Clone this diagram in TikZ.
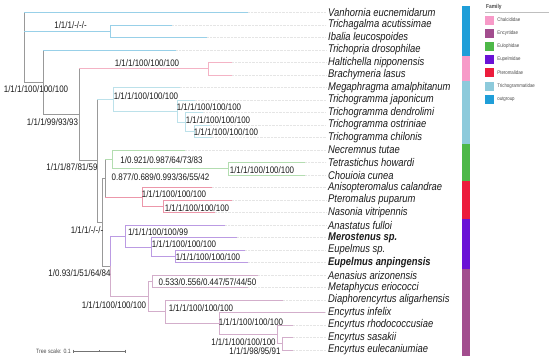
\documentclass[tikz,border=0pt]{standalone}
\usepackage{fontspec}
\setmainfont{Liberation Sans}[FakeStretch=0.84]
\usepackage{tikz}
\usetikzlibrary{positioning,calc}
% branch colours
\definecolor{cgr}{HTML}{999999}
\definecolor{cout}{HTML}{98D0E8}
\definecolor{cchal}{HTML}{F4B3C5}
\definecolor{ctri}{HTML}{BCE1EA}
\definecolor{ceul}{HTML}{B3DDB0}
\definecolor{cpte}{HTML}{EC97AA}
\definecolor{ceup}{HTML}{BB9BE3}
\definecolor{cenc}{HTML}{D3AECB}
% family strip colours
\definecolor{fout}{HTML}{1F9ED8}
\definecolor{fchal}{HTML}{F79AC8}
\definecolor{ftri}{HTML}{8DCADB}
\definecolor{feul}{HTML}{4DB848}
\definecolor{fpte}{HTML}{EC1C3C}
\definecolor{feup}{HTML}{6A12D6}
\definecolor{fenc}{HTML}{A24D8E}
\definecolor{ctext}{HTML}{1A1A1A}

\begin{document}
\begin{tikzpicture}[x=1pt, y=-1pt,
  br/.style={line width=0.8pt, line cap=rect},
  bs/.style={font=\fontsize{9.5}{10}\selectfont, text=ctext, inner sep=0pt},
  tx/.style={font=\fontsize{11.2}{12}\selectfont\itshape, text=ctext, anchor=west, inner sep=0pt},
  lead/.style={densely dotted, line width=0.4pt, draw=black!10},
  swatch/.style={minimum size=9pt, inner sep=0pt},
  lgtxt/.style={font=\fontsize{5.2}{6}\selectfont, text=black!70, inner sep=0pt}]
  \useasboundingbox (0,0) rectangle (550,364);
  % tips and taxon names
  \foreach \i/\tx/\nm in {0/248/{Vanhornia eucnemidarum}, 1/172/{Trichagalma acutissimae},
      2/207/{Ibalia leucospoides}, 3/176/{Trichopria drosophilae}, 4/232/{Haltichella nipponensis},
      5/232/{Brachymeria lasus}, 6/180/{Megaphragma amalphitanum}, 7/195/{Trichogramma japonicum},
      8/203/{Trichogramma dendrolimi}, 9/210/{Trichogramma ostriniae}, 10/212/{Trichogramma chilonis},
      11/185/{Necremnus tutae}, 12/305/{Tetrastichus howardi}, 13/305/{Chouioia cunea},
      14/212/{Anisopteromalus calandrae}, 15/232/{Pteromalus puparum}, 16/215/{Nasonia vitripennis},
      17/225/{Anastatus fulloi}, 18/237/{\bfseries Merostenus sp.}, 19/245/{Eupelmus sp.},
      20/248/{\bfseries Eupelmus anpingensis}, 21/258/{Aenasius arizonensis}, 22/248/{Metaphycus eriococci},
      23/283/{Diaphorencyrtus aligarhensis}, 24/325/{Encyrtus infelix}, 25/293/{Encyrtus rhodococcusiae},
      26/293/{Encyrtus sasakii}, 27/293/{Encyrtus eulecaniumiae}} {
    \coordinate (t\i) at (\tx,{12.5+12.5*\i});
    \node[tx] (l\i) at (328,{12.5+12.5*\i}) {\nm};
    \draw[lead] (t\i) -- ([xshift=-2pt]l\i.west);
  }
  % internal nodes
  \coordinate (root) at (24,47.4);
  \coordinate (nIT) at (110,31.25);
  \coordinate (nA) at (43,82.35);
  \coordinate (nB) at (79,114.7);
  \coordinate (nCh) at (208,68.75);
  \coordinate (nC) at (97,160.7);
  \coordinate (nTri) at (113,99.2);
  \coordinate (nTJ) at (177,110.9);
  \coordinate (nTD) at (185,121.9);
  \coordinate (nTO) at (194,131.25);
  \coordinate (nD) at (102,222.2);
  \coordinate (nE) at (105,178.15);
  \coordinate (nEul) at (112,159.4);
  \coordinate (nTC) at (228,168.75);
  \coordinate (nPte) at (142,196.9);
  \coordinate (nPN) at (163,206.25);
  \coordinate (nG) at (110.5,266.2);
  \coordinate (nJ) at (125,235.95);
  \coordinate (nL) at (151,246.9);
  \coordinate (nM) at (175,256.25);
  \coordinate (nK) at (148,296.5);
  \coordinate (nAM) at (152,281.25);
  \coordinate (nQ) at (165,311.7);
  \coordinate (nR) at (219,323.45);
  \coordinate (nS) at (277,334.4);
  \coordinate (nT2) at (282,343.75);
  % branches: parent/child/horizontal colour/vertical colour
  \foreach \p/\c/\hc/\vc in {root/t0/cout/cgr, root/nIT/cout/cgr, root/nA/cgr/cgr,
      nIT/t1/cout/cout, nIT/t2/cout/cout, nA/t3/cout/cgr, nA/nB/cgr/cgr,
      nB/nCh/cchal/cgr, nB/nC/cgr/cgr, nCh/t4/cchal/cchal, nCh/t5/cchal/cchal,
      nC/nTri/ctri/cgr, nC/nD/cgr/cgr, nTri/t6/ctri/ctri, nTri/nTJ/ctri/ctri,
      nTJ/t7/ctri/ctri, nTJ/nTD/ctri/ctri, nTD/t8/ctri/ctri, nTD/nTO/ctri/ctri,
      nTO/t9/ctri/ctri, nTO/t10/ctri/ctri, nD/nE/cgr/cgr, nD/nG/cgr/cgr,
      nE/nEul/ceul/cgr, nE/nPte/cpte/cgr, nEul/t11/ceul/ceul, nEul/nTC/ceul/ceul,
      nTC/t12/ceul/ceul, nTC/t13/ceul/ceul, nPte/t14/cpte/cpte, nPte/nPN/cpte/cpte,
      nPN/t15/cpte/cpte, nPN/t16/cpte/cpte, nG/nJ/ceup/ceup, nG/nK/cenc/cenc,
      nJ/t17/ceup/ceup, nJ/nL/ceup/ceup, nL/t18/ceup/ceup, nL/nM/ceup/ceup,
      nM/t19/ceup/ceup, nM/t20/ceup/ceup, nK/nAM/cenc/cenc, nK/nQ/cenc/cenc,
      nAM/t21/cenc/cenc, nAM/t22/cenc/cenc, nQ/t23/cenc/cenc, nQ/nR/cenc/cenc,
      nR/t24/cenc/cenc, nR/nS/cenc/cenc, nS/t25/cenc/cenc, nS/nT2/cenc/cenc,
      nT2/t26/cenc/cenc, nT2/t27/cenc/cenc} {
    \draw[br, draw=\vc] (\p) -- (\p |- \c);
    \draw[br, draw=\hc] (\p |- \c) -- (\c);
  }
  % support values
  \node[bs] (bRoot) at (36,89) {1/1/1/100/100/100};
  \node[bs] (bIT) at (70.5,25) {1/1/1/-/-/-};
  \node[bs] (bB) at (52.5,122) {1/1/1/99/93/93};
  \node[bs] (bCh) at (147,63) {1/1/1/100/100/100};
  \node[bs] (bC) at (72,167.5) {1/1/1/87/81/59};
  \node[bs] (bTri) at (146,96) {1/1/1/100/100/100};
  \node[bs] (bTJ) at (209,107) {1/1/1/100/100/100};
  \node[bs] (bTD) at (218,120) {1/1/1/100/100/100};
  \node[bs] (bTO) at (226,132) {1/1/1/100/100/100};
  \node[bs] (bD) at (87,230) {1/1/1/-/-/-};
  \node[bs] (bE) at (160.5,177) {0.877/0.689/0.993/36/55/42};
  \node[bs] (bEul) at (161.5,160) {1/0.921/0.987/64/73/83};
  \node[bs] (bTC) at (262,170) {1/1/1/100/100/100};
  \node[bs] (bPte) at (174,194) {1/1/1/100/100/100};
  \node[bs] (bPN) at (197,208) {1/1/1/100/100/100};
  \node[bs] (bG) at (79.5,273) {1/0.93/1/51/64/84};
  \node[bs] (bJ) at (158,232) {1/1/1/100/100/99};
  \node[bs] (bL) at (184,244) {1/1/1/100/100/100};
  \node[bs] (bM) at (208,257) {1/1/1/100/100/100};
  \node[bs] (bK) at (114,305) {1/1/1/100/100/100};
  \node[bs] (bAM) at (207.5,282) {0.533/0.556/0.447/57/44/50};
  \node[bs] (bQ) at (201,308) {1/1/1/100/100/100};
  \node[bs] (bR) at (251,322) {1/1/1/100/100/100};
  \node[bs] (bS) at (243.5,342.5) {1/1/1/100/100/100};
  \node[bs] (bT2) at (255,351) {1/1/1/98/95/91};
  % family strip
  \foreach \a/\b/\col in {0/3/fout, 4/5/fchal, 6/10/ftri, 11/13/feul, 14/16/fpte, 17/20/feup, 21/27/fenc}
    \fill[\col] (462,{6.25+12.5*\a}) rectangle (469.5,{18.75+12.5*\b});
  % legend
  \node[lgtxt, font=\fontsize{5.8}{6}\selectfont\bfseries, anchor=west] (fam) at (486,7) {Family};
  \draw[black!25, line width=0.5pt] (485,12.7) -- (549,12.7);
  \foreach \k/\col/\nm in {1/fchal/Chalcididae, 2/fenc/Encyrtidae, 3/feul/Eulophidae, 4/feup/Eupelmidae,
      5/fpte/Pteromalidae, 6/ftri/Trichogrammatidae, 7/fout/outgroup} {
    \node[swatch, fill=\col] (sw\k) at (489.5,{6.8+13.2*\k}) {};
    \node[lgtxt, right=3pt of sw\k] (lg\k) {\nm};
  }
  % tree scale
  \node[lgtxt, font=\fontsize{6.2}{7}\selectfont, anchor=east] (sc) at (71,351) {Tree scale: 0.1};
  \coordinate (sc0) at (73,351);
  \coordinate (sc1) at (125,351);
  \draw[black!55, line width=0.5pt] (sc0) -- (sc1);
  \draw[black!55, line width=0.5pt] (sc0) ++(0,-1.5) -- ++(0,3) (sc1) ++(0,-1.5) -- ++(0,3)
    ($(sc0)!.5!(sc1)$) ++(0,-1) -- ++(0,2);
\end{tikzpicture}
\end{document}
